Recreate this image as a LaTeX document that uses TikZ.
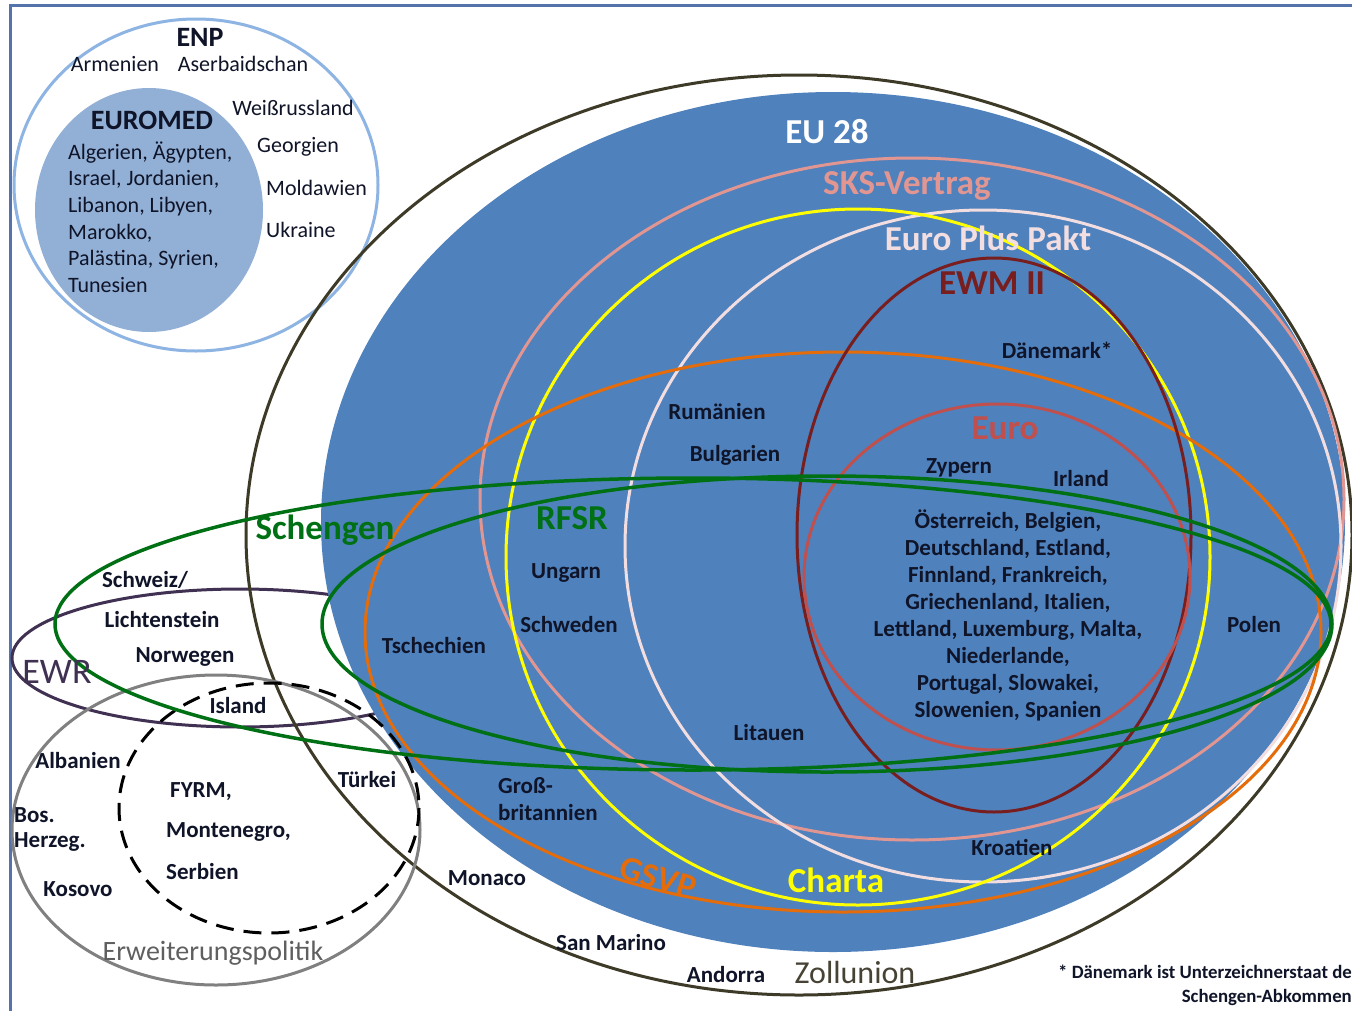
\documentclass[tikz,border=0pt]{standalone}
\usepackage{fontspec}
\setmainfont{Carlito}
\definecolor{eublue}{RGB}{79,129,189}
\definecolor{euromedc}{RGB}{146,176,214}
\definecolor{enpc}{RGB}{141,180,226}
\definecolor{framec}{RGB}{84,115,170}
\definecolor{zollc}{RGB}{62,58,40}
\definecolor{zolltxt}{RGB}{70,66,52}
\definecolor{ewrc}{RGB}{64,49,82}
\definecolor{erwc}{RGB}{128,128,128}
\definecolor{erwtxt}{RGB}{95,95,95}
\definecolor{sksc}{RGB}{226,150,145}
\definecolor{epc}{RGB}{242,222,224}
\definecolor{chartac}{RGB}{255,255,0}
\definecolor{gsvpc}{RGB}{228,108,10}
\definecolor{ewmc}{RGB}{120,30,30}
\definecolor{euroc}{RGB}{192,80,77}
\definecolor{greenc}{RGB}{0,112,20}
\definecolor{txtc}{RGB}{15,20,40}
\tikzset{
  ring/.style={line width=3pt},
  lab/.style={font=\fontsize{23}{27}\selectfont\bfseries, text=txtc, inner sep=0pt},
  enplab/.style={font=\fontsize{22}{26.6}\selectfont, text=txtc, inner sep=0pt},
  big/.style={font=\fontsize{35}{40}\selectfont\bfseries, inner sep=0pt},
  mid/.style={font=\fontsize{28}{32}\selectfont\bfseries, text=txtc, inner sep=0pt},
  foot/.style={font=\fontsize{18.8}{22}\selectfont\bfseries, text=txtc, inner sep=0pt, anchor=east}
}
\begin{document}
\begin{tikzpicture}[x=1pt,y=-1pt]
\useasboundingbox (0,0) rectangle (1352,1010);
\clip (0,0) rectangle (1352,1010);
\fill[white] (0,0) rectangle (1352,1010);
% frame
\draw[framec, line width=3pt] (10,1015) -- (10,5) -- (1360,5);
% ENP / EUROMED
\draw[enpc, ring] (196,185) ellipse [x radius=182, y radius=166];
\fill[euromedc] (149,210) ellipse [x radius=114, y radius=122];
% EWR (partly hidden by EU)
\draw[ewrc, ring] (240,658) ellipse [x radius=228, y radius=69];
% EU 28
\fill[eublue] (833,522) ellipse [x radius=512, y radius=430];
% Zollunion
\draw[zollc, ring] (799,535) ellipse [x radius=553, y radius=460];
% Erweiterungspolitik
\draw[erwc, ring] (216,830) ellipse [x radius=204, y radius=155];
\draw[black, ring, dash pattern=on 18pt off 10pt] (269,808) ellipse [x radius=150, y radius=125];
% inner rings
\draw[sksc, ring] (912,499) ellipse [x radius=432, y radius=341];
\draw[epc, ring] (983,546) ellipse [x radius=358, y radius=336];
\draw[chartac, ring] (858,557) ellipse [x radius=352, y radius=348];
\draw[gsvpc, ring] (843,632) ellipse [x radius=478, y radius=280];
\draw[ewmc, ring] (994,535) ellipse [x radius=197, y radius=277];
\draw[euroc, ring] (997,577) ellipse [x radius=193, y radius=173];
\draw[greenc, line width=3.5pt] (693,624) ellipse [x radius=638, y radius=146];
\draw[greenc, line width=3.5pt] (827,624) ellipse [x radius=505, y radius=148];

% ENP texts
\node[mid] (enp) at (200,37) {ENP};
\node[enplab] (armenien) at (115,64) {Armenien};
\node[enplab] (aserb) at (243,64) {Aserbaidschan};
\node[enplab] (weiss) at (293,108) {Weißrussland};
\node[mid] (euromed) at (152,120) {EUROMED};
\node[enplab, anchor=west, align=left] (euromedlist) at (68,217) {Algerien, Ägypten,\\Israel, Jordanien,\\Libanon, Libyen,\\Marokko,\\Palästina, Syrien,\\Tunesien};
\node[enplab, anchor=west] (georgien) at (257,147) {Georgien};
\node[enplab, anchor=west] (moldawien) at (266,188) {Moldawien};
\node[enplab, anchor=west] (ukraine) at (266,230) {Ukraine};

% big labels
\node[big, text=white] (eu28) at (827,132) {EU 28};
\node[big, text=sksc] (sks) at (907,186) {SKS-Vertrag};
\node[big, text=epc] (eplus) at (988,238) {Euro Plus Pakt};
\node[big, text=ewmc] (ewm) at (992,283) {EWM II};
\node[big, text=euroc] (euro) at (1005,428) {Euro};
\node[big, text=greenc] (schengen) at (325,530) {Schengen};
\node[big, text=greenc] (rfsr) at (572,518) {RFSR};
\node[big, text=chartac] (charta) at (836,880) {Charta};
\node[big, text=gsvpc, rotate=-17] (gsvp) at (658,878) {GSVP};
\node[font=\fontsize{36}{40}\selectfont, text=ewrc, inner sep=0pt] (ewr) at (57,672) {EWR};
\node[font=\fontsize{32}{36}\selectfont, text=zolltxt, inner sep=0pt] (zoll) at (855,972) {Zollunion};
\node[font=\fontsize{28}{32}\selectfont, text=erwtxt, inner sep=0pt] (erw) at (213,953) {Erweiterungspolitik};

% country labels
\node[lab] (daen) at (1057,350) {Dänemark*};
\node[lab] (rum) at (717,412) {Rumänien};
\node[lab] (bul) at (735,455) {Bulgarien};
\node[lab] (zyp) at (959,468) {Zypern};
\node[lab] (irl) at (1081,479) {Irland};
\node[lab, align=center] (eurolist) at (1008,615) {Österreich, Belgien,\\Deutschland, Estland,\\Finnland, Frankreich,\\Griechenland, Italien,\\Lettland, Luxemburg, Malta,\\Niederlande,\\Portugal, Slowakei,\\Slowenien, Spanien};
\node[lab] (ung) at (566,573) {Ungarn};
\node[lab] (schw) at (569,625) {Schweden};
\node[lab] (tsch) at (434,646) {Tschechien};
\node[lab] (pol) at (1254,625) {Polen};
\node[lab] (lit) at (769,733) {Litauen};
\node[lab] (schweiz) at (145,580) {Schweiz/};
\node[lab] (licht) at (162,620) {Lichtenstein};
\node[lab] (norw) at (185,657) {Norwegen};
\node[lab] (isl) at (238,706) {Island};
\node[lab] (alb) at (78,761) {Albanien};
\node[lab, anchor=west] (bos) at (14,815) {Bos.};
\node[lab, anchor=west] (herz) at (14,842) {Herzeg.};
\node[lab] (kos) at (78,889) {Kosovo};
\node[lab, anchor=west] (fyrm) at (170,792) {FYRM,};
\node[lab, anchor=west] (mont) at (166,832) {Montenegro,};
\node[lab, anchor=west] (serb) at (166,872) {Serbien};
\node[lab] (tuerk) at (367,780) {Türkei};
\node[lab, anchor=west] (gross) at (498,786) {Groß-};
\node[lab, anchor=west] (brit) at (498,813) {britannien};
\node[lab] (mon) at (487,878) {Monaco};
\node[lab] (sanm) at (611,943) {San Marino};
\node[lab] (and) at (726,975) {Andorra};
\node[lab] (kroa) at (1012,847) {Kroatien};

% footnote
\node[foot] (foot1) at (1352,972) {* Dänemark ist Unterzeichnerstaat de};
\node[foot] (foot2) at (1352,997) {Schengen-Abkommen};
\end{tikzpicture}
\end{document}
